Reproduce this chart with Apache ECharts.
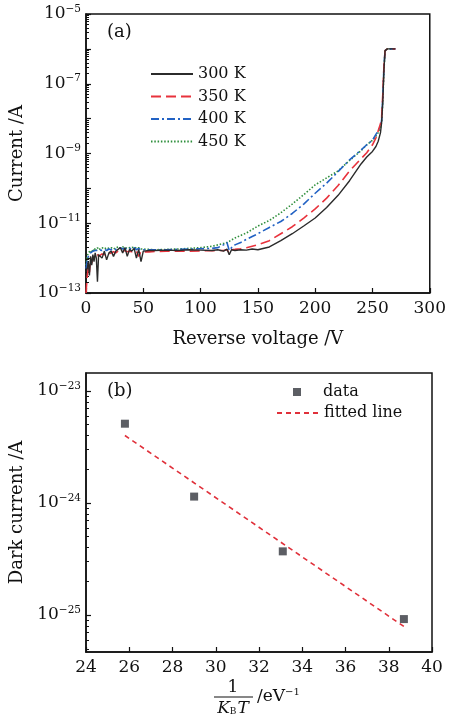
<!DOCTYPE html>
<html>
<head>
<meta charset="utf-8">
<script src="https://cdn.jsdelivr.net/npm/echarts@6/dist/echarts.min.js"></script>
<style>html,body{margin:0;padding:0;background:#fff;}#c{width:449px;height:721px;}</style>
</head>
<body>
<div id="c"></div>
<script>
// ---------- Panel (a): reverse I-V curves (current read on log scale, stored as log10 of A) ----------
const voltage = [0,1,2,3,4,5,6,7,8,9,10,11,12,14,16,18,20,22,24,26,28,30,32,34,36,38,40,42,44,46,48,50,55,60,70,80,90,100,110,115,120,123,125,127,130,135,140,145,150,160,170,180,190,200,210,220,230,240,245,250,253,255,257,258,259,260,261,263,266,270];
const log10Current300K = [-12.40,-12.30,-12.10,-12.50,-11.95,-12.20,-11.90,-12.10,-11.85,-12.00,-12.68,-11.90,-11.85,
  -12.00,-11.80,-12.05,-11.85,-11.80,-11.95,-11.80,-11.75,-11.70,-11.85,-11.70,-11.95,-11.75,-11.80,-11.72,-12.00,-11.75,-12.10,-11.80,
  -11.78,-11.78,-11.77,-11.78,-11.76,-11.77,-11.78,-11.76,-11.80,-11.74,-11.90,-11.76,-11.78,-11.76,-11.77,-11.74,-11.76,
  -11.68,-11.50,-11.30,-11.08,-10.85,-10.55,-10.20,-9.78,-9.30,-9.10,-8.94,-8.80,-8.65,-8.40,-8.10,-7.50,-6.60,-6.05,-6.00,-6.00,-6.00];
const log10Current350K = [-13.00,-12.55,-12.25,-12.40,-12.05,-12.15,-11.95,-12.00,-11.90,-11.95,-11.88,-11.95,-11.90,
  -11.88,-11.90,-11.85,-11.88,-11.85,-11.82,-11.85,-11.80,-11.82,-11.80,-11.78,-11.82,-11.80,-11.82,-11.78,-11.80,-11.95,-11.80,-11.82,
  -11.82,-11.81,-11.80,-11.80,-11.80,-11.79,-11.79,-11.78,-11.78,-11.76,-11.85,-11.76,-11.75,-11.73,-11.70,-11.66,-11.62,
  -11.50,-11.30,-11.10,-10.85,-10.59,-10.28,-9.92,-9.50,-9.15,-8.98,-8.75,-8.55,-8.35,-8.15,-7.95,-7.30,-6.50,-6.05,-6.00,-6.00,-6.00];
const log10Current400K = [-12.30,-12.10,-11.95,-12.00,-11.85,-11.90,-11.80,-11.85,-11.78,-11.82,-11.78,-11.80,-11.76,
  -11.78,-11.75,-11.78,-11.74,-11.76,-11.72,-11.75,-11.72,-11.70,-11.74,-11.72,-11.75,-11.72,-11.74,-11.70,-11.76,-11.72,-11.76,-11.76,
  -11.76,-11.76,-11.76,-11.75,-11.74,-11.73,-11.72,-11.70,-11.62,-11.55,-11.78,-11.70,-11.62,-11.55,-11.46,-11.38,-11.30,
  -11.12,-10.95,-10.72,-10.45,-10.14,-9.85,-9.52,-9.18,-8.90,-8.75,-8.62,-8.45,-8.35,-8.20,-8.05,-7.40,-6.50,-6.05,-6.00,-6.00,-6.00];
const log10Current450K = [-12.20,-11.95,-11.85,-11.90,-11.78,-11.85,-11.74,-11.80,-11.72,-11.78,-11.70,-11.76,-11.72,
  -11.70,-11.74,-11.70,-11.72,-11.70,-11.74,-11.70,-11.68,-11.72,-11.68,-11.70,-11.72,-11.70,-11.70,-11.68,-11.72,-11.70,-11.74,-11.74,
  -11.75,-11.76,-11.75,-11.74,-11.72,-11.70,-11.66,-11.62,-11.58,-11.55,-11.52,-11.48,-11.42,-11.35,-11.28,-11.18,-11.08,
  -10.92,-10.70,-10.45,-10.18,-9.90,-9.70,-9.50,-9.20,-8.92,-8.75,-8.62,-8.50,-8.40,-8.25,-8.10,-7.50,-6.60,-6.05,-6.00,-6.00,-6.00];
const seriesNamesA = ['300 K','350 K','400 K','450 K'];
const xTicksA = [0,50,100,150,200,250,300];
const yDecadesA = [-13,-12,-11,-10,-9,-8,-7,-6,-5];
const yLabelsA = [-13,-11,-9,-7,-5];

// ---------- Panel (b): dark current vs 1/(kB T) ----------
const invKT = [25.8, 29.0, 33.1, 38.7];
const darkCurrent = [5.1e-24, 1.14e-24, 3.7e-25, 9.2e-26];
const fitX = [25.8, 38.7];
const fitY = [4.0e-24, 7.9e-26];
const xTicksB = [24,26,28,30,32,34,36,38,40];
const yDecadesB = [-25,-24,-23];

const FONT = 'DejaVu Serif';
const TXT = '#111';

function minorLogs(lo, hi) {
  const out = [];
  for (let n = Math.floor(lo) - 1; n <= Math.ceil(hi); n++) {
    for (let k = 2; k <= 9; k++) {
      const v = n + Math.log10(k);
      if (v > lo && v < hi) out.push(v);
    }
  }
  return out;
}
const powLabel = v => '{b|10}{s|\u2212' + Math.round(-v) + '}';
const richPow = {
  b: {fontFamily: FONT, fontSize: 17, color: TXT},
  s: {fontFamily: FONT, fontSize: 10.5, color: TXT, padding: [0, 0, 10, 0]}
};

const pairs = (xs, ys) => xs.map((x, i) => [x, ys[i]]);
const logPairs = (xs, ys) => xs.map((x, i) => [x, Math.log10(ys[i])]);

const yA = [-13, -5], yB = [-25.33, -22.84];

function xAxisCommon(gridIndex, min, max, interval, ticks) {
  return {
    type: 'value', gridIndex, min, max, interval, position: 'bottom',
    axisLine: {show: true, onZero: false, lineStyle: {color: '#111', width: 1.5}},
    axisTick: {show: true, inside: true, length: 5, lineStyle: {color: '#111', width: 1.2}, customValues: ticks},
    axisLabel: {fontFamily: FONT, fontSize: 17, color: TXT, margin: 7, customValues: ticks},
    splitLine: {show: false}
  };
}
function yMajor(gridIndex, ext, ticks, labels, name, nameGap) {
  return {
    type: 'value', gridIndex, min: ext[0], max: ext[1], position: 'left',
    name, nameLocation: 'middle', nameGap,
    nameTextStyle: {fontFamily: FONT, fontSize: 18, color: TXT},
    axisLine: {show: true, onZero: false, lineStyle: {color: '#111', width: 1.5}},
    axisTick: {show: true, inside: true, length: 5, lineStyle: {color: '#111', width: 1.2}, customValues: ticks},
    axisLabel: {margin: 5, formatter: powLabel, rich: richPow, customValues: labels},
    splitLine: {show: false}
  };
}
function yMinor(gridIndex, ext) {
  return {
    type: 'value', gridIndex, min: ext[0], max: ext[1], position: 'left',
    axisLine: {show: false, onZero: false},
    axisTick: {show: true, inside: true, length: 3, lineStyle: {color: '#111', width: 1}, customValues: minorLogs(ext[0], ext[1])},
    axisLabel: {show: false},
    splitLine: {show: false}
  };
}

const chart = echarts.init(document.getElementById('c'), null, {renderer: 'canvas'});
const lineStyles = {
  '300 K': {color: '#2b2b2b', type: 'solid', width: 1.4},
  '350 K': {color: '#e8323c', type: [10, 5], width: 1.6},
  '400 K': {color: '#2262c4', type: [8, 3, 2, 3], width: 1.6},
  '450 K': {color: '#2f8f3c', type: [1.5, 1.8], width: 1.6}
};
const dataA = {'300 K': log10Current300K, '350 K': log10Current350K, '400 K': log10Current400K, '450 K': log10Current450K};

const seriesA = seriesNamesA.slice().reverse().map(n => ({
  name: n, type: 'line', xAxisIndex: 0, yAxisIndex: 0,
  data: pairs(voltage, dataA[n]), symbol: 'none', smooth: false,
  lineStyle: lineStyles[n], itemStyle: {color: lineStyles[n].color}, z: 2
}));

const legendText = {fontFamily: FONT, fontSize: 16, color: TXT};

chart.setOption({
  animation: false,
  backgroundColor: '#fff',
  grid: [
    {left: 86, right: 17, top: 14, height: 279, show: true, borderColor: '#111', borderWidth: 1.5},
    {left: 86, right: 17, top: 373, height: 279, show: true, borderColor: '#111', borderWidth: 1.5}
  ],
  xAxis: [
    Object.assign(xAxisCommon(0, 0, 300, 50, xTicksA), {name: 'Reverse voltage /V', nameLocation: 'middle', nameGap: 37,
      nameTextStyle: {fontFamily: FONT, fontSize: 18, color: TXT}}),
    xAxisCommon(1, 24, 40, 2, xTicksB)
  ],
  yAxis: [
    yMajor(0, yA, yDecadesA, yLabelsA, 'Current /A', 58),
    yMinor(0, yA),
    yMajor(1, yB, yDecadesB, yDecadesB, 'Dark current /A', 55),
    yMinor(1, yB)
  ],
  legend: [
    {data: seriesNamesA, orient: 'vertical', left: 150, top: 66, padding: 0, itemWidth: 42, itemHeight: 12, itemGap: 6.5,
      itemStyle: {opacity: 0}, textStyle: legendText},
    {data: ['data'], orient: 'vertical', left: 293, top: 384, padding: 0, itemWidth: 8, itemHeight: 8,
      textStyle: Object.assign({padding: [0, 0, 0, 17]}, legendText)},
    {data: ['fitted line'], orient: 'vertical', left: 276, top: 405, padding: 0, itemWidth: 42, itemHeight: 12,
      itemStyle: {opacity: 0}, textStyle: legendText}
  ],
  series: seriesA.concat([
    {name: 'fitted line', type: 'line', xAxisIndex: 1, yAxisIndex: 2, data: logPairs(fitX, fitY), symbol: 'none',
      lineStyle: {color: '#e0303a', type: [5, 4], width: 1.6}, itemStyle: {color: '#e0303a'}},
    {name: 'data', type: 'scatter', xAxisIndex: 1, yAxisIndex: 2, data: logPairs(invKT, darkCurrent), symbol: 'rect', symbolSize: 8,
      itemStyle: {color: '#33363d'}}
  ]),
  graphic: [
    {type: 'text', left: 107, top: 23, style: {text: '(a)', fontFamily: FONT, fontSize: 18, fill: TXT}},
    {type: 'text', left: 107, top: 382, style: {text: '(b)', fontFamily: FONT, fontSize: 18, fill: TXT}},
    {type: 'text', x: 233, y: 688, style: {text: '1', fontFamily: FONT, fontSize: 17, fill: TXT, align: 'center', verticalAlign: 'middle'}},
    {type: 'line', shape: {x1: 214, y1: 697, x2: 253, y2: 697}, style: {stroke: TXT, lineWidth: 1.2}},
    {type: 'text', x: 233, y: 709, style: {text: '{i|K}{u|B}{i|T}', align: 'center', verticalAlign: 'middle',
      rich: {i: {fontFamily: FONT, fontStyle: 'italic', fontSize: 17, fill: TXT}, u: {fontFamily: FONT, fontSize: 9, fill: TXT, padding: [6, 1, 0, 0]}}}},
    {type: 'text', x: 257, y: 697, style: {text: '{n|/eV}{s|\u22121}', verticalAlign: 'middle',
      rich: {n: {fontFamily: FONT, fontSize: 17, fill: TXT}, s: {fontFamily: FONT, fontSize: 10, fill: TXT, padding: [0, 0, 9, 0]}}}}
  ]
});
</script>
</body>
</html>
